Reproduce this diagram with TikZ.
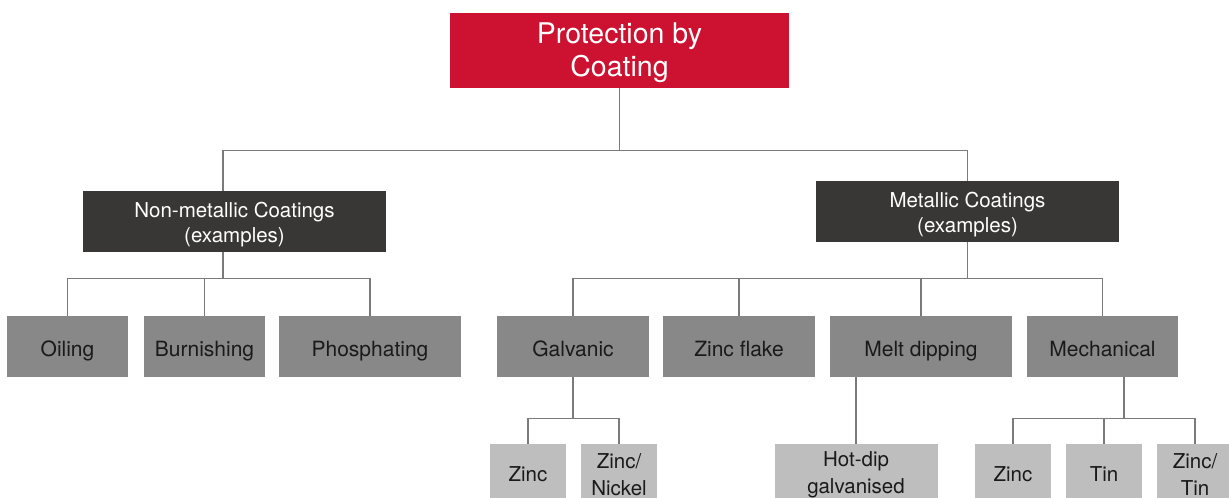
\documentclass[tikz,border=0pt]{standalone}
\usepackage{fontspec}
\setmainfont{TeX Gyre Heros}
\usetikzlibrary{positioning}
\definecolor{crimson}{RGB}{204, 18, 48}
\definecolor{charcoal}{RGB}{57, 55, 53}
\definecolor{midgray}{RGB}{135, 136, 135}
\definecolor{lightgray}{RGB}{190, 190, 190}
\definecolor{linegray}{RGB}{122, 122, 122}
\definecolor{inkdark}{RGB}{26, 26, 26}
\newcommand{\topstrut}[1]{\rule{0pt}{#1}}

\begin{document}
\begin{tikzpicture}[
  x=1pt, y=-1pt,
  every node/.style = {inner sep=0pt, align=center},
  root/.style = {
    rectangle, fill=crimson, text=white,
    minimum width=339pt, minimum height=75pt,
    font=\fontsize{28.5}{33}\selectfont
  },
  cat/.style = {
    rectangle, fill=charcoal, text=white,
    minimum width=#1, minimum height=61pt,
    font=\fontsize{20.5}{25}\selectfont
  },
  method/.style = {
    rectangle, fill=midgray, text=inkdark,
    minimum width=#1, minimum height=61pt,
    text height=19pt, text depth=0pt,
    font=\fontsize{21}{25}\selectfont
  },
  leaf/.style = {
    rectangle, fill=lightgray, text=inkdark,
    minimum width=#1, minimum height=61pt,
    font=\fontsize{20.5}{27}\selectfont
  },
  conn/.style = {draw=linegray, line width=1.4pt}
]
\useasboundingbox (0,0) rectangle (1229,498);
\clip (0,0) rectangle (1229,498);

% ---- ROOT ----
\node[root] (root) at (619.5,50.5) {\topstrut{25pt}Protection by\\Coating};

% ---- CATEGORIES ----
\node[cat=303pt] (nonmet) at (234.5,221.5) {\topstrut{21pt}Non-metallic Coatings\\(examples)};
\node[cat=303pt] (met)    at (967.5,211.5) {\topstrut{21pt}Metallic Coatings\\(examples)};

% ---- METHODS (y=346.5) ----
\node[method=121pt] (oil)   at (67.5,346.5)  {Oiling};
\node[method=121pt] (burn)  at (204.5,346.5) {Burnishing};
\node[method=182pt] (phos)  at (370,346.5)   {Phosphating};
\node[method=152pt] (galv)  at (573,346.5)   {Galvanic};
\node[method=152pt] (flake) at (739,346.5)   {Zinc flake};
\node[method=182pt] (melt)  at (921,346.5)   {Melt dipping};
\node[method=151pt] (mech)  at (1102.5,346.5){Mechanical};

% ---- EXAMPLES (y=474.5, cut by the frame) ----
\node[leaf=76pt]  (zincA)   at (528,474.5)   {Zinc};
\node[leaf=76pt]  (zincni)  at (619,474.5)   {Zinc/\\Nickel};
\node[leaf=163pt] (hotdip)  at (856,474.5)   {Hot-dip\\galvanised};
\node[leaf=76pt]  (zincB)   at (1013,474.5)  {Zinc};
\node[leaf=76pt]  (tin)     at (1104,474.5)  {Tin};
\node[leaf=76pt]  (zinctin) at (1195,474.5)  {Zinc/\\Tin};

% ---- root -> categories ----
\draw[conn] (root.south) -- ++(0,62) coordinate (rj);
\draw[conn] ([xshift=-11.5pt]nonmet.north) |- (rj) -| (met.north);

% ---- non-metallic -> methods ----
\draw[conn] ([xshift=-11.5pt]nonmet.south) -- ++(0,26) coordinate (nj);
\draw[conn] (oil.north) |- (nj) -| (phos.north);
\draw[conn] (burn.north) -- (burn.north |- nj);

% ---- metallic -> methods ----
\draw[conn] (met.south) -- ++(0,36) coordinate (mj);
\draw[conn] (galv.north) |- (mj) -| (mech.north);
\draw[conn] (flake.north) -- (flake.north |- mj);
\draw[conn] (melt.north) -- (melt.north |- mj);

% ---- galvanic -> examples ----
\draw[conn] (galv.south) -- ++(0,41) coordinate (gj);
\draw[conn] (zincA.north) |- (gj) -| (zincni.north);

% ---- melt dipping -> hot-dip ----
\draw[conn] (hotdip.north) -- (hotdip.north |- melt.south);

% ---- mechanical -> examples ----
\draw[conn] ([xshift=21.5pt]mech.south) -- ++(0,41) coordinate (kj);
\draw[conn] (zincB.north) |- (kj) -| (zinctin.north);
\draw[conn] (tin.north) -- (tin.north |- kj);

\end{tikzpicture}
\end{document}
